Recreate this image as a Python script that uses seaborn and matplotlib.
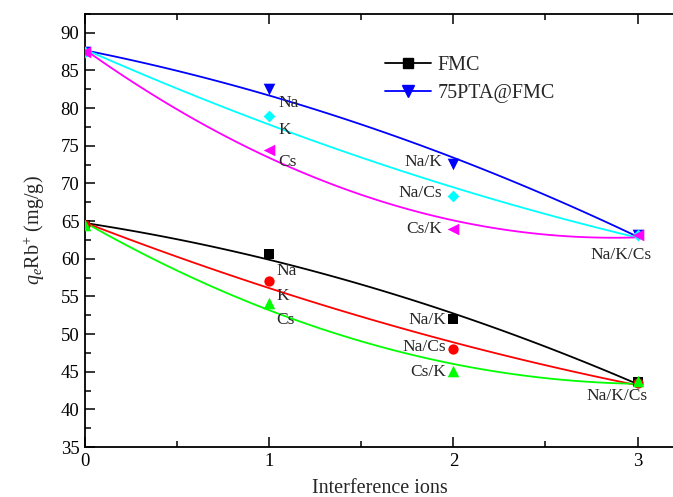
import matplotlib
matplotlib.use("Agg")
import matplotlib.pyplot as plt
import seaborn as sns
import numpy as np
import pandas as pd
from matplotlib.lines import Line2D
from matplotlib.ticker import MultipleLocator

# ---------------- data ----------------
x_ions = [0, 1, 2, 3]
x_ticks = [0, 1, 2, 3]

fmc_na = [64.5, 60.6, 52.0, 43.6]
fmc_k = [64.5, 57.0, 48.0, 43.5]
fmc_cs = [64.5, 54.1, 45.1, 43.7]

pta_na = [87.4, 82.5, 72.6, 63.2]
pta_k = [87.4, 79.0, 68.3, 63.2]
pta_cs = [87.4, 74.5, 64.0, 63.2]

legend_labels = ["FMC", "75PTA@FMC"]
single_labels = ["Na", "K", "Cs"]
pair_labels = ["Na/K", "Na/Cs", "Cs/K"]
triple_label = "Na/K/Cs"

# ---------------- style ----------------
sns.set_style("ticks")
plt.rcParams["font.family"] = ["Liberation Serif", "DejaVu Serif"]
plt.rcParams["mathtext.fontset"] = "custom"
plt.rcParams["mathtext.rm"] = "Liberation Serif"
plt.rcParams["mathtext.it"] = "Liberation Serif:italic"
plt.rcParams["mathtext.bf"] = "Liberation Serif:bold"

fig = plt.figure(figsize=(6.73, 4.97), dpi=100)
ax = fig.add_axes([85 / 673, 1 - 447 / 497, 1 - 85 / 673 + 0.002, (447 - 14) / 497])

series = [
    (fmc_na, "#000000", "s", 45),
    (fmc_k, "#FF0000", "o", 55),
    (fmc_cs, "#00FF00", "^", 70),
    (pta_na, "#0000FF", "v", 70),
    (pta_k, "#00FFFF", "D", 36),
    (pta_cs, "#FF00FF", "<", 70),
]

for vals, col, mk, sz in series:
    df = pd.DataFrame({"x": x_ions, "y": vals})
    sns.regplot(data=df, x="x", y="y", order=2, ci=None, truncate=True, ax=ax,
                color=col, marker=mk,
                scatter_kws={"s": sz, "linewidths": 0, "alpha": 1, "zorder": 3},
                line_kws={"lw": 1.3, "zorder": 2})

ax.set_xlim(0, 3.2)
ax.set_ylim(35, 92.5)
ax.set_xticks(x_ticks)
ax.xaxis.set_minor_locator(MultipleLocator(0.5))
ax.yaxis.set_major_locator(MultipleLocator(5))
ax.yaxis.set_minor_locator(MultipleLocator(2.5))
ax.tick_params(which="both", direction="in", top=True, right=False,
               labelsize=13.5, width=1.1, colors="black", pad=4)
ax.tick_params(which="major", length=7)
ax.tick_params(which="minor", length=4)
for s in ["left", "bottom", "top"]:
    ax.spines[s].set_linewidth(1.3)
    ax.spines[s].set_color("black")
ax.spines["right"].set_visible(False)

ax.set_xlabel("Interference ions", fontsize=14.5, labelpad=7)
ax.set_ylabel(r"$q_e\mathrm{Rb}^{+}$ (mg/g)", fontsize=14.5, labelpad=10)

# ---------------- annotations ----------------
fs = 12.5
# upper group
for lab, y in zip(single_labels, [80.7, 77.1, 72.8]):
    ax.text(1.05, y, lab, fontsize=fs, ha="left", va="center")
for lab, y in zip(pair_labels, [72.9, 68.7, 64.0]):
    ax.text(1.94, y, lab, fontsize=fs, ha="right", va="center")
ax.text(2.91, 60.5, triple_label, fontsize=fs, ha="center", va="center")
# lower group
for lab, y in zip(single_labels, [58.4, 55.0, 51.8]):
    ax.text(1.04, y, lab, fontsize=fs, ha="left", va="center")
for lab, y in zip(pair_labels, [51.8, 48.3, 45.0]):
    ax.text(1.96, y, lab, fontsize=fs, ha="right", va="center")
ax.text(2.89, 41.8, triple_label, fontsize=fs, ha="center", va="center")

# ---------------- legend ----------------
handles = [
    Line2D([0], [0], color="#000000", lw=1.3, marker="s", markersize=6.5),
    Line2D([0], [0], color="#0000FF", lw=1.3, marker="v", markersize=8.5),
]
ax.legend(handles, legend_labels, loc="upper left", bbox_to_anchor=(0.495, 0.922),
          frameon=False, fontsize=14.5, handlelength=2.3, handletextpad=0.3,
          labelspacing=0.45, borderaxespad=0)

fig.savefig("out.png", dpi=100)
